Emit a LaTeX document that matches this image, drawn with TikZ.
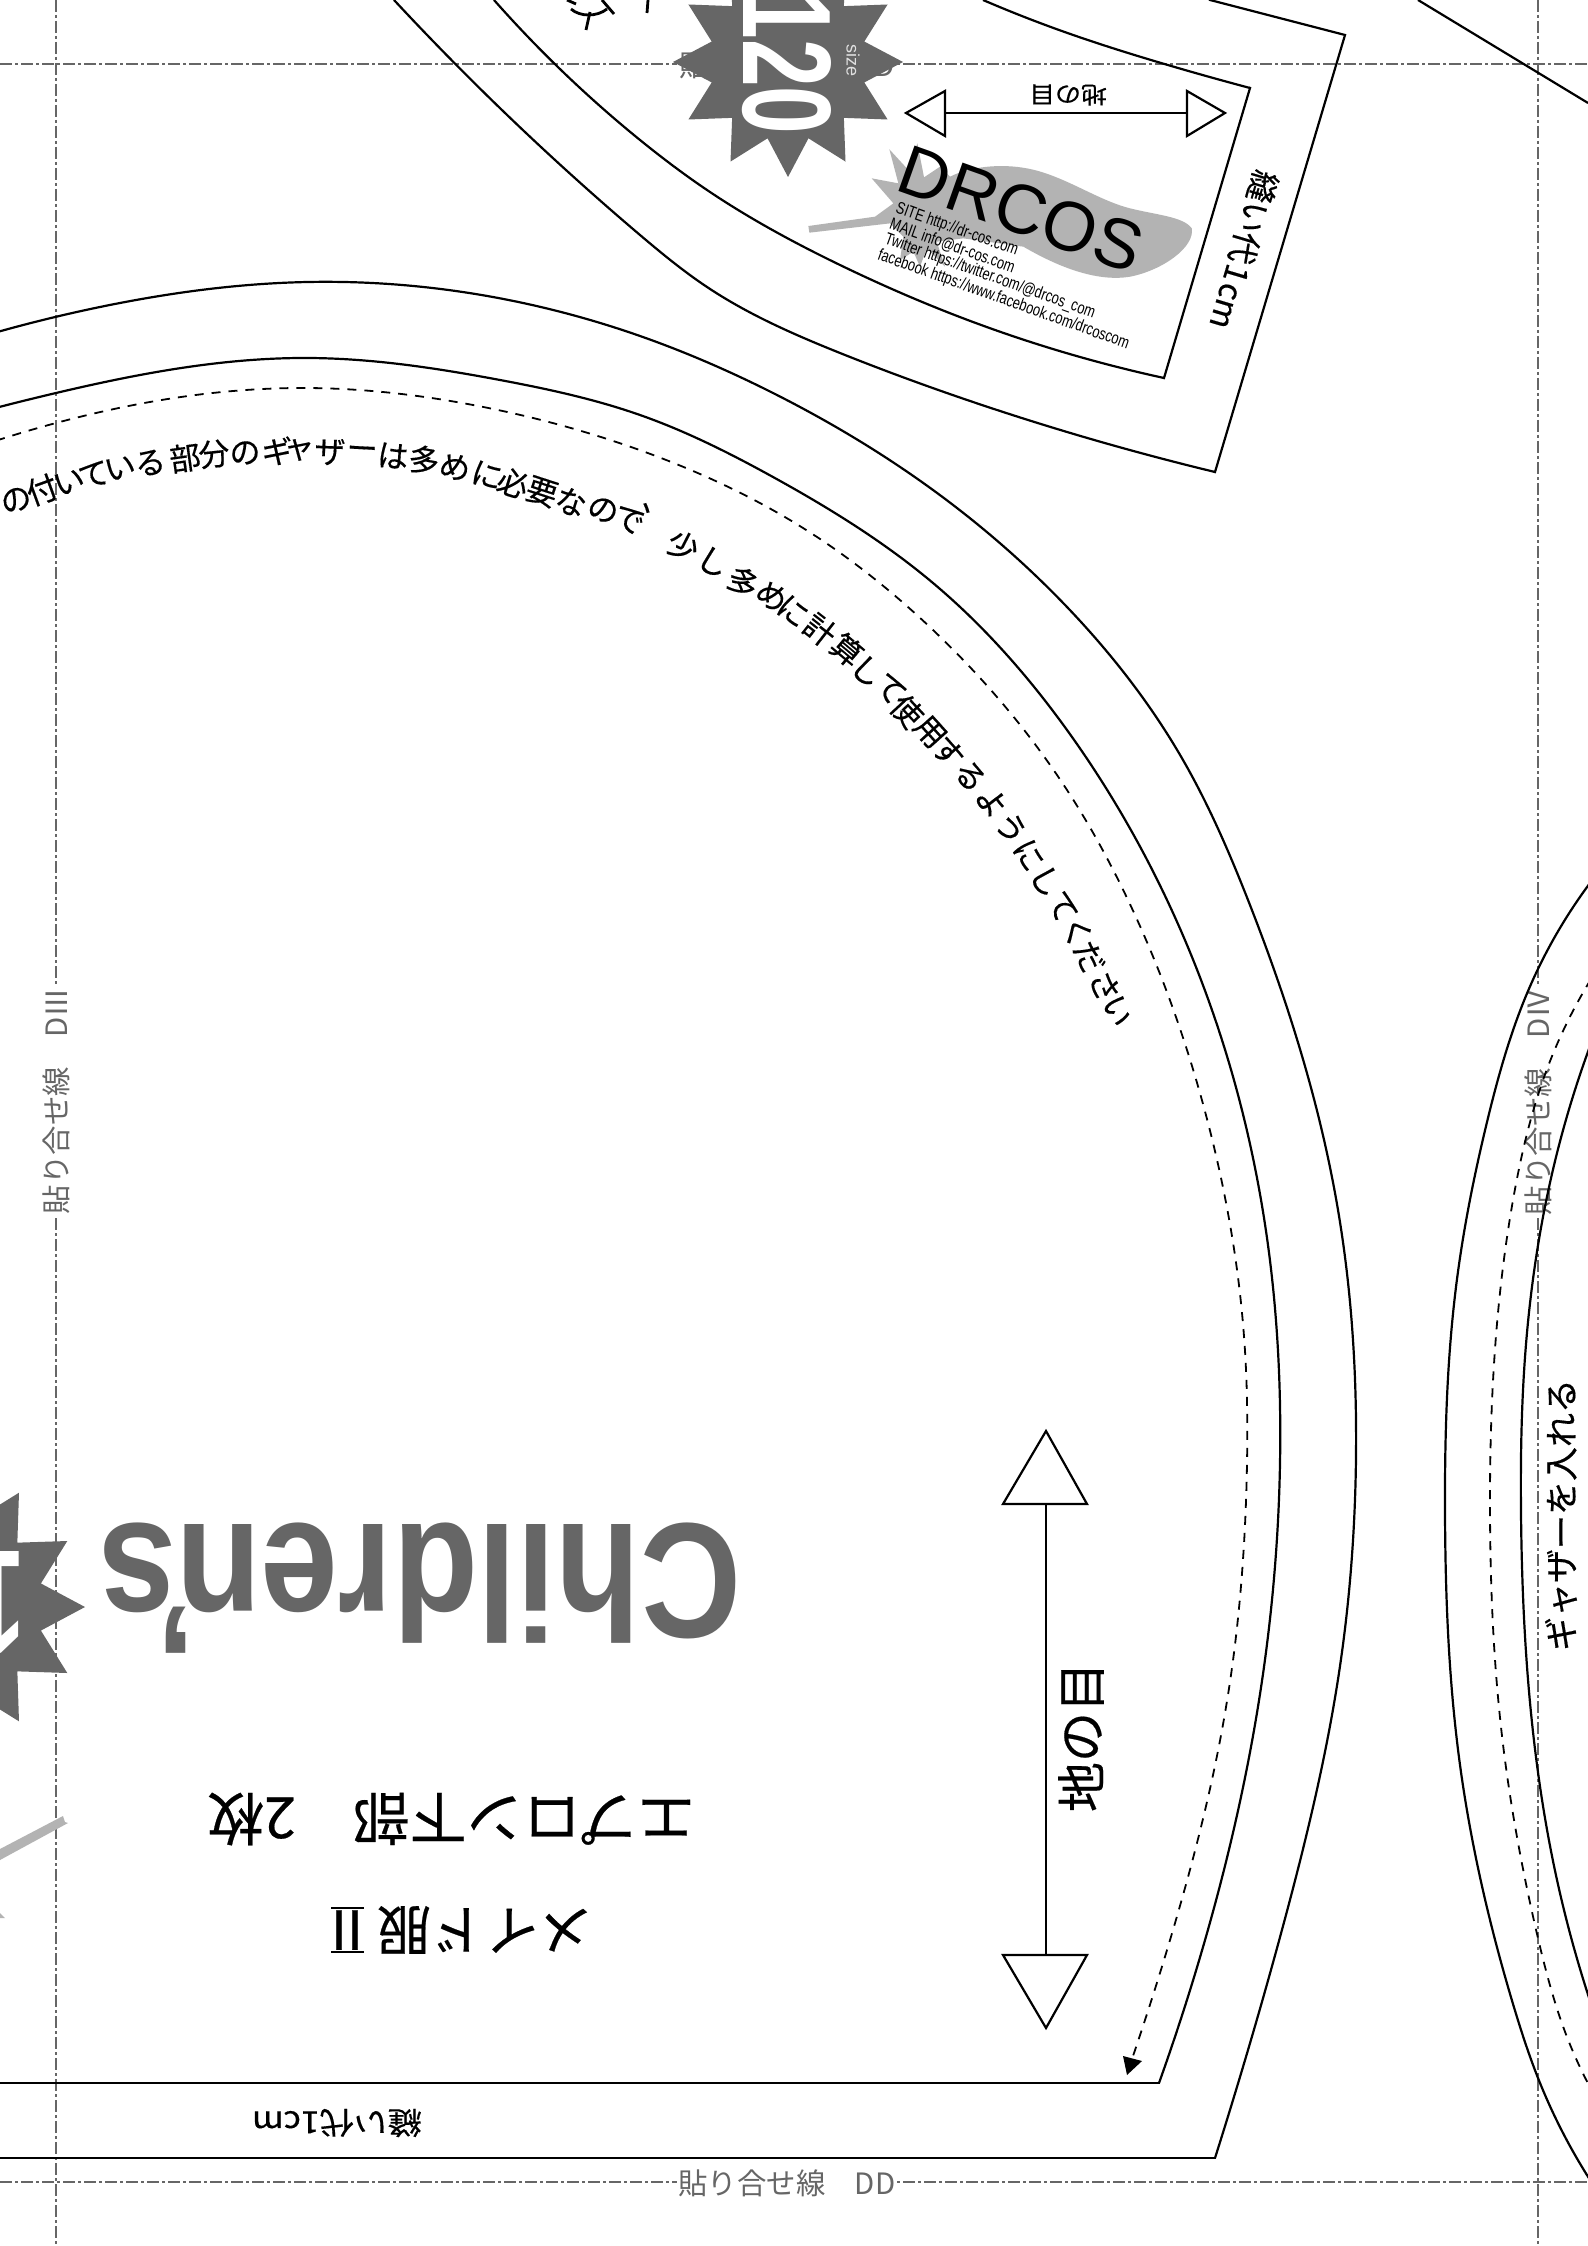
\documentclass[tikz,border=0pt]{standalone}
\usepackage{graphicx}
\usepackage{fontspec}
\setmainfont{Liberation Sans}
\newfontfamily\jp{Noto Sans CJK JP}
\newfontfamily\jpb[FakeBold=0.4]{Noto Sans CJK JP}
\usetikzlibrary{hobby}
\definecolor{guidegray}{HTML}{666666}
\definecolor{leafgray}{HTML}{B3B3B3}
\tikzset{
  px/.style={x=0.5pt,y=-0.5pt},
  guide/.style={draw=guidegray,line width=1pt,dash pattern=on 6pt off 1.5pt on 1.5pt off 1.5pt},
  guidelabel/.style={text=guidegray,fill=white,inner sep=1pt,font=\jp\fontsize{14.7pt}{14.7pt}\selectfont},
  cutline/.style={draw=black,line width=1.1pt,line join=miter},
  sharpline/.style={draw=black,line width=1.1pt,line cap=rect,line join=miter},
  sewdash/.style={draw=black,line width=0.9pt,dash pattern=on 4.5pt off 4pt},
  grain/.style={draw=black,fill=white,line width=1.1pt,line join=miter},
  grainstem/.style={draw=black,line width=1.1pt},
  jplabel/.style={inner sep=0pt,text=black},
  starfill/.style={fill=guidegray},
  leaf/.style={fill=leafgray},
  inkbit/.style={draw=black,line width=1.4pt},
  notechar/.style={inner sep=0pt,text=black,font=\jpb\fontsize{15.5pt}{15.5pt}\selectfont},
}
\begin{document}
\begin{tikzpicture}[px]
\useasboundingbox (0,0) rectangle (1588,2246);
\clip (0,0) rectangle (1588,2246);
\fill[white] (0,0) rectangle (1588,2246);

% guides
\coordinate (gl1) at (56,0); \coordinate (gl2) at (56,2246);
\coordinate (gr1) at (1538,0); \coordinate (gr2) at (1538,2246);
\coordinate (gt1) at (0,64); \coordinate (gt2) at (1588,64);
\coordinate (gb1) at (0,2182); \coordinate (gb2) at (1588,2182);
\draw[guide] (gl1) -- (gl2);
\draw[guide] (gr1) -- (gr2);
\draw[guide] (gt1) -- (gt2);
\draw[guide] (gb1) -- (gb2);
\node[guidelabel] (lblb) at (787,2183) {貼り合せ線　DD};
\node[guidelabel] (lblt) at (787,65) {貼り合せ線　CD};
\node[guidelabel,rotate=90] (lbll) at (56,1101) {貼り合せ線　DⅢ};
\node[guidelabel,rotate=90] (lblr) at (1538,1102) {貼り合せ線　DⅣ};

% main piece
\draw[cutline,use Hobby shortcut] (-20,337) .. (100,307) .. (308,282) .. (640,336) .. (773,393) .. (933,490) .. (1067,607) .. (1183,760) .. (1248,900) .. (1338,1210) .. (1356,1456) .. (1340,1666) .. (1283,1926) .. (1233,2100) .. (1215,2158);
\draw[sharpline] (1215,2158) -- (-10,2158);
\draw[cutline,use Hobby shortcut] (-20,412) .. (56,393) .. (308,358) .. (500,380) .. (640,415) .. (773,477) .. (933,583) .. (1067,730) .. (1167,900) .. (1267,1238) .. (1280,1463) .. (1260,1694) .. (1203,1947) .. (1159,2083);
\draw[sharpline] (1159,2083) -- (-10,2083);
\draw[sewdash,use Hobby shortcut] (-20,446) .. (56,423) .. (304,388) .. (473,405) .. (645,452) .. (803,528) .. (933,630) .. (1067,790) .. (1128,900) .. (1207,1119) .. (1245,1351) .. (1247,1463) .. (1227,1701) .. (1170,1940) .. (1133,2056);
\fill (1123,2056) -- (1142,2061) -- (1127,2075) -- cycle;

% top piece
\draw[cutline,use Hobby shortcut] (394,0) .. (640,235) .. (707,287) .. (840,353) .. (973,402) .. (1215,472);
\draw[sharpline] (1215,472) -- (1345,35) -- (1210,0);
\draw[cutline,use Hobby shortcut] (494,0) .. (640,140) .. (707,190) .. (840,265) .. (973,322) .. (1164,378);
\draw[sharpline] (1164,378) -- (1250,88);
\draw[cutline,use Hobby shortcut] (1250,88) .. (1161,63) .. (1059,30) .. (983,0);
\draw[cutline] (1418,0) -- (1588,103);
% cut-off glyph strokes at the top edge
\draw[inkbit] (586,30) -- (590,12);
\draw[inkbit] (571,9) .. controls (580,17) and (597,17) .. (607,9);
\draw[inkbit] (602,0) -- (614,14);
\draw[inkbit] (567,0) -- (576,4);
\draw[inkbit] (648,0) -- (647,13);

% right piece
\draw[cutline,use Hobby shortcut] (1600,870) .. (1528,991) .. (1487,1122) .. (1457,1279) .. (1445,1514) .. (1460,1765) .. (1513,2004) .. (1538,2078) .. (1600,2195);
\draw[cutline,use Hobby shortcut] (1600,1020) .. (1557,1153) .. (1525,1357) .. (1521,1514) .. (1537,1765) .. (1557,1880) .. (1600,2030);
\draw[sewdash,use Hobby shortcut] (1600,965) .. (1547,1069) .. (1513,1200) .. (1490,1514) .. (1502,1736) .. (1537,1934) .. (1567,2037) .. (1600,2105);

% grain arrows
\coordinate (ga1) at (1046,1504); \coordinate (ga2) at (1046,1955);
\draw[grainstem] (ga1) -- (ga2);
\draw[grain] (1046,1431) -- (1087,1504) -- (1003,1504) -- cycle;
\draw[grain] (1046,2028) -- (1087,1955) -- (1003,1955) -- cycle;
\coordinate (gb3) at (945,113); \coordinate (gb4) at (1187,113);
\draw[grainstem] (gb3) -- (gb4);
\draw[grain] (906,113) -- (945,91) -- (945,136) -- cycle;
\draw[grain] (1225,113) -- (1187,91) -- (1187,136) -- cycle;

% stars
\fill[starfill,shift={(788,62)}] (0:115) \foreach \a in {0,30,...,330}{ -- (\a+15:79) -- (\a+30:115)} -- cycle;
\node[rotate=-90,inner sep=0,text=white] (n120a) at (787,63) {\scalebox{0.68}[1]{\fontsize{63pt}{63pt}\selectfont\bfseries 120}};
\node[rotate=-90,inner sep=0,text=white!88!black] (nsize) at (853,61) {\fontsize{9pt}{9pt}\selectfont size};
\fill[starfill,shift={(-47,1607)}] (0:132) \foreach \a in {0,30,...,330}{ -- (\a+15:91) -- (\a+30:132)} -- cycle;
\node[rotate=180,inner sep=0,text=white] (n120b) at (-58,1602) {\scalebox{0.68}[1]{\fontsize{74pt}{74pt}\selectfont\bfseries 120}};

% Children's
\node[rotate=180,inner sep=0,text=guidegray] (children) at (420,1588) {\scalebox{0.85}[1]{\fontsize{82pt}{82pt}\selectfont\bfseries Children\makebox[0pt]{\raisebox{0.1em}{’}}s}};

% leaf
\begin{scope}[shift={(780,120)},x=0.1667pt,y=-0.1667pt]
\fill[leaf] (85,318) -- (285,290) -- (340,250) -- (275,175) -- (355,190) -- (328,88) -- (385,150) -- (412,70) -- (432,172) -- (480,140) -- (510,170)
  .. controls (570,140) and (660,130) .. (740,145)
  .. controls (850,165) and (950,240) .. (1050,265)
  .. controls (1130,285) and (1210,290) .. (1235,325)
  .. controls (1245,380) and (1150,450) .. (1050,470)
  .. controls (960,485) and (850,450) .. (730,380)
  -- (550,355) -- (470,365) -- (495,440) -- (440,385) -- (420,440) -- (400,395) -- (360,420) -- (370,350) -- (330,310) -- (88,338) -- cycle;
\end{scope}
\fill[leaf] (0,1849) -- (63,1816) -- (65,1822) -- (68,1823) -- (0,1860) -- cycle;
\fill[leaf] (0,1913) -- (5,1918) -- (0,1918) -- cycle;

% DRCOS
\node[rotate=-19.5,inner sep=0] (drcos) at (1021,209) {\fontsize{35pt}{35pt}\selectfont DRCOS};
\node[rotate=-19.7,anchor=west,inner sep=0] (site) at (896,208) {\scalebox{0.76}[1]{\fontsize{8.5pt}{8.5pt}\selectfont SITE http://dr-cos.com}};
\node[rotate=-19.7,anchor=west,inner sep=0] (mail) at (890,224) {\scalebox{0.76}[1]{\fontsize{8.5pt}{8.5pt}\selectfont MAIL info@dr-cos.com}};
\node[rotate=-19.7,anchor=west,inner sep=0] (twit) at (885,239) {\scalebox{0.76}[1]{\fontsize{8.5pt}{8.5pt}\selectfont Twitter https://twitter.com/@drcos\_com}};
\node[rotate=-19.7,anchor=west,inner sep=0] (face) at (878,255) {\scalebox{0.76}[1]{\fontsize{8.5pt}{8.5pt}\selectfont facebook https://www.facebook.com/drcoscom}};

% Japanese labels
\node[jplabel,rotate=180] (title2) at (451,1819) {\jpb\fontsize{28.5pt}{28.5pt}\selectfont エプロン下部　2枚};
\node[jplabel,rotate=180] (title1) at (485,1930) {\jpb\fontsize{27pt}{27pt}\selectfont メイド服};
\node[jplabel,rotate=180] (title1b) at (347,1930) {\jpb\fontsize{27pt}{27pt}\selectfont Ⅱ};
\draw[line width=1.4pt] (331,1908) -- (364,1908) (331,1952) -- (364,1952);
\node[jplabel,rotate=90] (grainv) at (1081,1737) {\jpb\fontsize{25pt}{25pt}\selectfont 地の目};
\node[jplabel,rotate=180] (grainh) at (1068,95) {\scalebox{1}[0.9]{\jpb\fontsize{13pt}{13pt}\selectfont 地の目}};
\node[jplabel,rotate=-106.6] (seamr) at (1244,250) {\jpb\fontsize{16pt}{16pt}\selectfont 縫い代\kern1pt 1\kern1pt cm};
\node[jplabel,rotate=180] (seamb) at (337,2123) {\scalebox{1}[0.9]{\jpb\fontsize{17pt}{17pt}\selectfont 縫い代1cm}};
\node[jplabel,rotate=90] (gather) at (1561,1515) {\jpb\fontsize{17pt}{17pt}\selectfont ギャザーを入れる};

% curved note, set character by character along its arc
\foreach \c/\x/\y/\r [count=\i] in {の/16/500/20,付/42/490/20,い/69/482/17,て/94/475/15,い/120/468/13,る/150/463/10,部/185/458/8,分/214/454/6,の/245/453/3,ギ/277/451/2,ャ/299/450/0,ザ/330/452/-2,ー/362/453/-3,は/393/456/-6,多/424/460/-10,め/455/467/-13,に/487/475/-15,必/513/483/-17,要/542/492/-18,な/571/502/-19,の/603/510/-20,で/629/520/-22,、/655/512/-25,少/683/546/-27,し/713/562/-30,多/743/582/-33,め/772/596/-35,に/793/611/-37,計/820/630/-38,算/847/650/-40,し/867/671/-43,て/890/689/-45,使/907/711/-47,用/930/732/-48,す/948/752/-50,る/970/776/-52,よ/992/802/-54,う/1011/828/-56,に/1029/855/-58,し/1046/881/-60,て/1062/907/-62,く/1077/932/-63,だ/1089/957/-65,さ/1105/986/-66,い/1117/1011/-68}
  \node[notechar,rotate=\r] (note\i) at (\x,\y) {\c};
\end{tikzpicture}
\end{document}
